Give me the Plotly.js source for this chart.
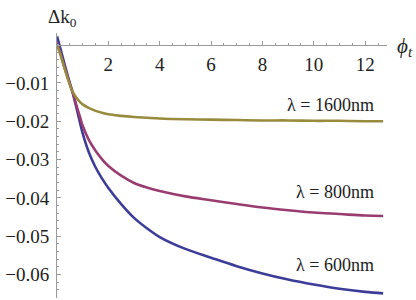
<!DOCTYPE html>
<html>
<head>
<meta charset="utf-8">
<script src="https://cdn.plot.ly/plotly-3.0.1.min.js"></script>
<style>html,body{margin:0;padding:0;background:#fff;}#chart{width:416px;height:300px;}</style>
</head>
<body>
<div id="chart"></div>
<script>
// Data
const phi = [0, 0.15, 0.3, 0.45, 0.6, 0.75, 0.9, 1.0, 1.25, 1.5, 1.75, 2, 2.5, 3, 3.5, 4, 5, 6, 7, 8, 9, 10, 11, 12, 12.7];
const dk600 = [0.0022, -0.0015, -0.0053, -0.0089, -0.0123, -0.0163, -0.0205, -0.0232, -0.0283, -0.0320, -0.0349, -0.0374, -0.0416, -0.0452, -0.0479, -0.0502, -0.0533, -0.0556, -0.0578, -0.0597, -0.0613, -0.0626, -0.0637, -0.0645, -0.0649];
const dk800 = [0.0005, -0.0028, -0.0062, -0.0093, -0.0123, -0.0157, -0.0190, -0.0212, -0.0250, -0.0277, -0.0299, -0.0317, -0.0342, -0.0361, -0.0373, -0.0382, -0.0396, -0.0406, -0.0416, -0.0425, -0.0432, -0.0438, -0.0442, -0.0446, -0.0447];
const dk1600 = [0.0000, -0.0030, -0.0063, -0.0095, -0.0122, -0.0138, -0.0150, -0.0156, -0.0166, -0.0173, -0.0178, -0.0182, -0.0186, -0.0189, -0.0191, -0.0193, -0.0195, -0.0196, -0.0197, -0.0198, -0.0198, -0.0199, -0.0199, -0.0200, -0.0200];
const seriesNames = ['λ = 600nm', 'λ = 800nm', 'λ = 1600nm'];
const seriesColors = ['rgb(61,61,153)', 'rgb(153,61,113)', 'rgb(153,139,61)'];
const labelX = [12.42, 12.42, 12.42];
const labelY = [-0.0575, -0.0385, -0.0157];
const xTicks = [2, 4, 6, 8, 10, 12];
const yTicks = [-0.06, -0.05, -0.04, -0.03, -0.02, -0.01];
const yTickText = ['−0.06', '−0.05', '−0.04', '−0.03', '−0.02', '−0.01'];

const ys = [dk600, dk800, dk1600];
const traces = ys.map((y, i) => ({
  x: phi, y: y, type: 'scatter', mode: 'lines', name: seriesNames[i],
  line: {color: seriesColors[i], width: 2.6, shape: 'spline', smoothing: 1},
  hoverinfo: 'skip'
}));

const yMin = -0.0661, yMax = 0.003;
const serif = 'Liberation Serif';
const annotations = seriesNames.map((t, i) => ({
  x: labelX[i], y: labelY[i], xref: 'x', yref: 'y', text: t, showarrow: false,
  xanchor: 'right', yanchor: 'middle', font: {family: serif, size: 18, color: '#222'}
}));
annotations.push({x: 62, y: 18, xref: 'paper', yref: 'paper', text: 'Δk<sub>0</sub>', showarrow: false,
  xanchor: 'center', yanchor: 'middle', font: {family: serif, size: 19, color: '#222'}});
annotations.push({x: 405, y: 47, xref: 'paper', yref: 'paper', text: '<i>ϕ</i><sub><i>t</i></sub>', showarrow: false,
  xanchor: 'center', yanchor: 'middle', font: {family: serif, size: 21, color: '#222'}});
const L = 57, R = 29, T = 33, B = 2, W = 416, H = 300;
const pw = W - L - R, ph = H - T - B;
[annotations[3], annotations[4]].forEach(a => {
  a.x = (a.x - L) / pw;
  a.y = (H - B - a.y) / ph;
});

const layout = {
  width: W, height: H,
  margin: {l: L, r: R, t: T, b: B, pad: 0},
  paper_bgcolor: '#fff', plot_bgcolor: '#fff',
  showlegend: false,
  font: {family: serif},
  xaxis: {
    range: [0, 12.85], anchor: 'free', position: (0 - yMin) / (yMax - yMin),
    showgrid: false, zeroline: false, showline: true, linecolor: '#9a9a9a', linewidth: 1,
    tickvals: xTicks, ticktext: xTicks.map(String), ticks: 'inside', ticklen: 4, tickcolor: '#9a9a9a', tickwidth: 1,
    minor: {dtick: 0.5, ticks: 'inside', ticklen: 2, tickcolor: '#9a9a9a', showgrid: false},
    tickfont: {family: serif, size: 19, color: '#222'}, ticklabelstandoff: 3
  },
  yaxis: {
    range: [yMin, yMax],
    showgrid: false, zeroline: false, showline: true, linecolor: '#9a9a9a', linewidth: 1,
    tickvals: yTicks, ticktext: yTickText, ticks: 'inside', ticklen: 4, tickcolor: '#9a9a9a', tickwidth: 1,
    minor: {dtick: 0.002, ticks: 'inside', ticklen: 2, tickcolor: '#9a9a9a', showgrid: false},
    tickfont: {family: serif, size: 19, color: '#222'}, ticklabelstandoff: 3
  },
  annotations: annotations
};
Plotly.newPlot('chart', traces, layout, {displayModeBar: false, staticPlot: true});
</script>
</body>
</html>
